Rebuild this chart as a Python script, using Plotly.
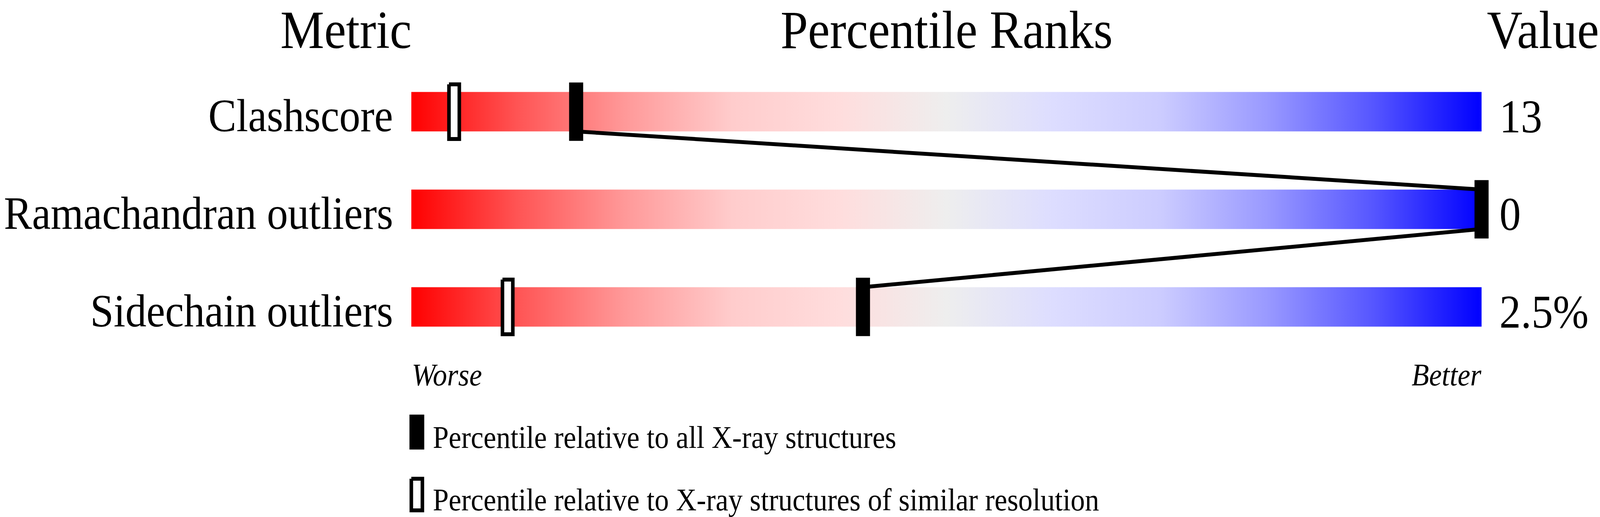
import plotly.graph_objects as go

# ---------------- data ----------------
metrics = ["Clashscore", "Ramachandran outliers", "Sidechain outliers"]
values_text = ["13", "0", "2.5%"]
pct_all = [15.4, 100.0, 42.2]          # percentile relative to all X-ray structures (filled)
pct_similar = [4.0, None, 9.0]         # percentile relative to similar resolution (open)
headers = ["Metric", "Percentile Ranks", "Value"]
scale_ends = ["Worse", "Better"]
legend_labels = ["Percentile relative to all X-ray structures",
                 "Percentile relative to X-ray structures of similar resolution"]

# ---------------- geometry helpers (layout only) ----------------
W, H = 4485, 1324
X0_PX, PX_PER_PCT = 1153, 30.0
ROW0_PX, ROW_STEP = 286, 250.0


def px2x(px):
    return (px - X0_PX) / PX_PER_PCT


def px2y(py):
    return (py - ROW0_PX) / ROW_STEP


BAR_HALF = 50.5 / ROW_STEP
FM_HALF_W, FM_HALF_H = 19.5 / PX_PER_PCT, 74.5 / ROW_STEP
OM_HALF_W, OM_HALF_H = 14.5 / PX_PER_PCT, 70 / ROW_STEP

SERIF = "Liberation Serif, Times New Roman, serif"

colorscale = [
    [0.0, "#FF0000"], [0.1, "#FF5555"], [0.2, "#FF9999"], [0.3, "#FFCCCC"],
    [0.4, "#FFDDDD"], [0.5, "#EEEEEE"], [0.6, "#DDDDFF"], [0.7, "#CCCCFF"],
    [0.8, "#9999FF"], [0.9, "#5555FF"], [1.0, "#0000FF"],
]

fig = go.Figure()

# gradient slider bars
for i, _ in enumerate(metrics):
    fig.add_trace(go.Scatter(
        x=[0, 100, 100, 0, 0],
        y=[i - BAR_HALF, i - BAR_HALF, i + BAR_HALF, i + BAR_HALF, i - BAR_HALF],
        mode="lines", line=dict(width=0), fill="toself",
        fillgradient=dict(type="horizontal", colorscale=colorscale, start=0, stop=100),
        hoverinfo="skip", showlegend=False,
    ))

# connector line between filled markers
lx, ly = [], []
for i, p in enumerate(pct_all):
    if i > 0:
        lx.append(p); ly.append(i - BAR_HALF)
    if i < len(pct_all) - 1:
        lx.append(p); ly.append(i + BAR_HALF)
fig.add_trace(go.Scatter(x=lx, y=ly, mode="lines", line=dict(color="black", width=10),
                         hoverinfo="skip", showlegend=False))


def rects(xs, ys, hw, hh):
    rx, ry = [], []
    for x, y in zip(xs, ys):
        if x is None:
            continue
        rx += [x - hw, x + hw, x + hw, x - hw, x - hw, None]
        ry += [y - hh, y - hh, y + hh, y + hh, y - hh, None]
    return rx, ry


# filled markers
fx, fy = rects(pct_all, list(range(len(metrics))), FM_HALF_W, FM_HALF_H)
fig.add_trace(go.Scatter(x=fx, y=fy, mode="lines", fill="toself", fillcolor="black",
                         line=dict(color="black", width=0.5), hoverinfo="skip", showlegend=False))
# open markers
ox, oy = rects(pct_similar, list(range(len(metrics))), OM_HALF_W, OM_HALF_H)
fig.add_trace(go.Scatter(x=ox, y=oy, mode="lines", fill="toself", fillcolor="white",
                         line=dict(color="black", width=10), hoverinfo="skip", showlegend=False))

# legend markers
lgx = px2x(1168.5)
lfx, lfy = rects([lgx], [px2y(1106.5)], 20.5 / PX_PER_PCT, 44.5 / ROW_STEP)
fig.add_trace(go.Scatter(x=lfx, y=lfy, mode="lines", fill="toself", fillcolor="black",
                         line=dict(color="black", width=0.5), hoverinfo="skip", showlegend=False))
lox, loy = rects([lgx], [px2y(1266.5)], 15.5 / PX_PER_PCT, 40.5 / ROW_STEP)
fig.add_trace(go.Scatter(x=lox, y=loy, mode="lines", fill="toself", fillcolor="white",
                         line=dict(color="black", width=10), hoverinfo="skip", showlegend=False))

annotations = []


def txt(text, xpx, ypx_center, size, xanchor, italic=False):
    annotations.append(dict(
        text=text, x=px2x(xpx), y=px2y(ypx_center), xref="x", yref="y",
        xanchor=xanchor, yanchor="middle", showarrow=False,
        borderpad=0, borderwidth=0,
        font=dict(family=SERIF, size=size, color="black",
                  style="italic" if italic else "normal"),
    ))


def header(text, xpx, xanchor):
    annotations.append(dict(
        text=text, x=px2x(xpx), y=1.0, xref="x", yref="paper",
        xanchor=xanchor, yanchor="top", showarrow=False, borderpad=0, borderwidth=0,
        font=dict(family=SERIF, size=138, color="black"),
    ))


# headers at the very top
header(headers[0], 1154, "right")
header(headers[1], 2653, "center")
header(headers[2], W - 3, "right")

# metric labels and values
for i, (m, v) in enumerate(zip(metrics, values_text)):
    base = ROW0_PX + ROW_STEP * i + 50.5
    txt(m, 1102, base - 0.3375 * 118, 118, "right")
    txt(v, 4203, base + 2 - 0.3375 * 120, 120, "left")

# worse / better
txt(scale_ends[0], 1154, 987 - 0.3375 * 80, 80, "left", italic=True)
txt(scale_ends[1], 4153, 987 - 0.3375 * 80, 80, "right", italic=True)

# legend texts
txt(legend_labels[0], 1213, 1147 - 0.3375 * 80, 80, "left")
txt(legend_labels[1], 1213, 1307 - 0.3375 * 80, 80, "left")

fig.update_layout(
    width=W, height=H,
    margin=dict(l=0, r=0, t=0, b=0, pad=0),
    paper_bgcolor="white", plot_bgcolor="white",
    showlegend=False, hovermode=False,
    xaxis=dict(range=[px2x(0), px2x(W)], visible=False, fixedrange=True),
    yaxis=dict(range=[px2y(H), px2y(0)], visible=False, fixedrange=True),
    annotations=annotations,
)

# fit the whole 4485x1324 figure into whatever viewport the page gets
fit_script = """
(function(){
  var gd = document.getElementById('{plot_id}');
  var de = document.documentElement, b = document.body;
  de.style.margin = '0'; de.style.padding = '0'; de.style.overflow = 'hidden';
  b.style.margin = '0'; b.style.padding = '0'; b.style.overflow = 'hidden';
  function fit(){
    var vw = window.innerWidth || de.clientWidth;
    var vh = window.innerHeight || de.clientHeight;
    var sx = vw / %d, sy = vh / %d;
    gd.style.transformOrigin = '0 0';
    gd.style.transform = 'scale(' + sx + ',' + sy + ')';
  }
  fit();
  window.addEventListener('resize', fit);
})();
""" % (W, H)

fig.write_html("out.html", config={"displayModeBar": False}, post_script=fit_script)
